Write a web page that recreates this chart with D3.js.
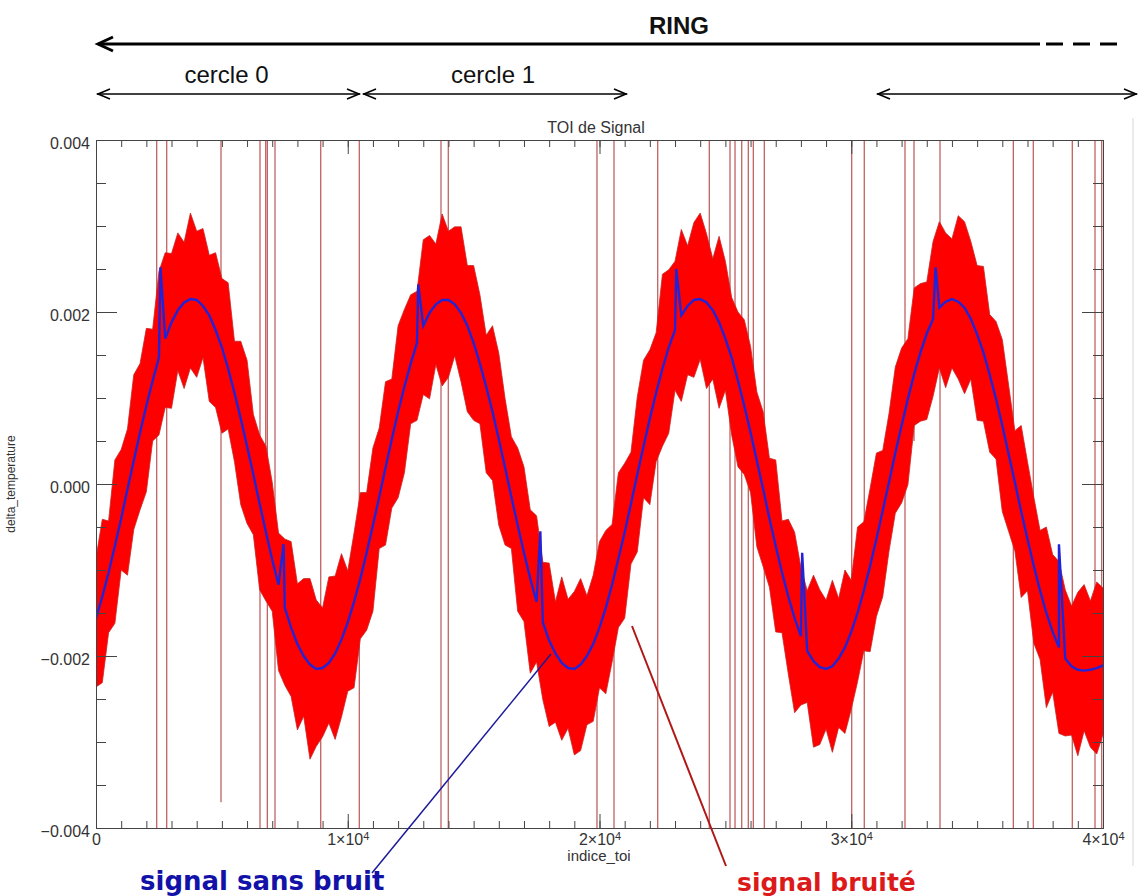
<!DOCTYPE html>
<html lang="fr">
<head>
<meta charset="UTF-8">
<title>TOI de Signal</title>
<script src="https://d3js.org/d3.v7.min.js"></script>
<style>
  body { margin: 0; background: #fff; }
  .axis text { font-family: "Liberation Sans", Arial, sans-serif; font-size: 16px; fill: #333; }
  .axis path, .axis line { stroke: #444; stroke-width: 1; }
  .note { font-family: "Liberation Sans", Arial, sans-serif; fill: #111; }
</style>
</head>
<body>
<div id="chart"></div>
<script>

// clean signal (blue), one sample every 250 indices
const sampleStep = 250;
const cleanSignal = [
  -0.00156, -0.00131, -0.00103, -0.00072, -0.00040, -0.00006, 0.00027, 0.00060, 0.00091, 0.00120,
  0.00147, 0.00169, 0.00188, 0.00202, 0.00211, 0.00215, 0.00214, 0.00207, 0.00196, 0.00179,
  0.00159, 0.00134, 0.00106, 0.00076, 0.00044, 0.00011, -0.00023, -0.00056, -0.00088, -0.00117,
  -0.00144, -0.00167, -0.00186, -0.00200, -0.00210, -0.00215, -0.00214, -0.00208, -0.00197, -0.00181,
  -0.00161, -0.00137, -0.00110, -0.00080, -0.00048, -0.00015, 0.00019, 0.00052, 0.00084, 0.00113,
  0.00140, 0.00164, 0.00184, 0.00199, 0.00209, 0.00214, 0.00214, 0.00209, 0.00199, 0.00184,
  0.00164, 0.00140, 0.00113, 0.00084, 0.00052, 0.00019, -0.00015, -0.00048, -0.00080, -0.00110,
  -0.00137, -0.00161, -0.00182, -0.00197, -0.00208, -0.00214, -0.00215, -0.00210, -0.00200, -0.00186,
  -0.00167, -0.00144, -0.00117, -0.00087, -0.00056, -0.00023, 0.00011, 0.00044, 0.00076, 0.00106,
  0.00134, 0.00159, 0.00179, 0.00196, 0.00207, 0.00214, 0.00215, 0.00211, 0.00202, 0.00188,
  0.00169, 0.00147, 0.00120, 0.00091, 0.00060, 0.00027, -0.00006, -0.00040, -0.00072, -0.00103,
  -0.00131, -0.00156, -0.00177, -0.00194, -0.00206, -0.00213, -0.00215, -0.00212, -0.00203, -0.00190,
  -0.00172, -0.00150, -0.00124, -0.00095, -0.00064, -0.00031, 0.00002, 0.00036, 0.00068, 0.00099,
  0.00128, 0.00153, 0.00175, 0.00192, 0.00205, 0.00212, 0.00215, 0.00212, 0.00205, 0.00192,
  0.00174, 0.00153, 0.00127, 0.00099, 0.00068, 0.00035, 0.00002, -0.00032, -0.00064, -0.00095,
  -0.00124, -0.00150, -0.00172, -0.00190, -0.00203, -0.00212, -0.00216, -0.00217, -0.00216, -0.00214,
  -0.00211
];

// small blips in the clean signal
const cleanBlipIdx = [2560, 7450, 12800, 17650, 23050, 28050, 33350, 38250];
const cleanBlipVal = [0.00252, -0.00070, 0.00232, -0.00055, 0.00250, -0.00080, 0.00252, -0.00070];

// noise spread above / below the clean signal, units of 1e-4, same sampling
const noiseAbove = [
  7, 9, 6, 10, 8, 7, 10, 8, 9, 6, 10, 10, 8, 9, 7, 10, 8, 9, 7, 9,
  8, 10, 6, 9, 10, 7, 8, 10, 9, 6, 8, 10, 7, 9, 10, 8, 7, 10, 9, 10,
  6, 8, 10, 7, 9, 8, 10, 7, 10, 9, 8, 6, 10, 9, 7, 10, 8, 9, 10, 7,
  9, 8, 6, 10, 10, 8, 7, 9, 10, 8, 10, 7, 9, 6, 10, 8, 9, 10, 7, 8,
  10, 9, 7, 10, 8, 6, 9, 10, 8, 7, 11, 9, 8, 10, 7, 9, 10, 8, 6, 10,
  9, 7, 8, 10, 10, 8, 9, 7, 10, 6, 9, 10, 8, 7, 10, 9, 8, 10, 7, 9,
  6, 10, 8, 9, 10, 7, 8, 10, 9, 7, 10, 8, 6, 9, 10, 8, 7, 10, 10, 9,
  8, 10, 7, 9, 10, 8, 6, 10, 9, 8, 7, 10, 9, 10, 8, 7, 9, 10, 8, 10,
  9
];
const noiseBelow = [
  8, 10, 7, 9, 6, 10, 8, 9, 10, 7, 9, 8, 10, 7, 10, 8, 9, 6, 10, 9,
  10, 7, 8, 10, 9, 7, 10, 8, 6, 10, 9, 8, 10, 7, 11, 9, 8, 7, 10, 9,
  8, 10, 7, 9, 10, 6, 9, 8, 10, 10, 7, 9, 8, 10, 7, 10, 9, 6, 8, 10,
  9, 7, 10, 8, 10, 9, 6, 10, 8, 11, 7, 9, 10, 8, 9, 7, 10, 10, 8, 9,
  7, 10, 9, 8, 10, 7, 9, 6, 10, 8, 9, 10, 7, 10, 8, 9, 7, 10, 8, 10,
  6, 9, 10, 8, 7, 10, 9, 8, 10, 7, 9, 11, 8, 6, 10, 9, 7, 10, 8, 10,
  9, 8, 7, 10, 9, 10, 8, 7, 9, 10, 6, 8, 10, 9, 7, 10, 8, 9, 10, 7,
  10, 8, 9, 7, 10, 9, 8, 10, 6, 9, 8, 11, 7, 10, 9, 8, 10, 7, 9, 10,
  8
];

// big glitches in the noisy signal (vertical lines)
const glitchIdx = [2411, 2808, 4965, 6514, 6741, 6806, 7110, 8926, 10459, 13704, 13994, 19900,
  20576, 22312, 24362, 25184, 25383, 25649, 25911, 26110, 26547, 30018, 30518, 32135,
  32493, 33526, 36438, 37232, 38781, 39682, 39948];
const glitchLow = glitchIdx.map(d => -0.004);
glitchLow[2] = -0.0037;
glitchLow[4] = -0.0010;
glitchLow[24] = 0.0005;

const xMajor = [0, 10000, 20000, 30000, 40000];
const yMajor = [-0.004, -0.002, 0, 0.002, 0.004];

const width = 1139, height = 896;

const svg = d3.select('#chart').append('svg')
  .attr('width', width)
  .attr('height', height);

const x = d3.scaleLinear().domain([0, 40000]).range([96, 1103]);
const y = d3.scaleLinear().domain([-0.004, 0.004]).range([828, 140]);

svg.append('clipPath').attr('id', 'plotClip')
  .append('rect')
  .attr('x', 96).attr('y', 140)
  .attr('width', 1103 - 96).attr('height', 828 - 140);

const plot = svg.append('g').attr('clip-path', 'url(#plotClip)');

// glitches first, the band covers them
plot.selectAll('.glitch')
  .data(glitchIdx)
  .join('line')
  .attr('class', 'glitch')
  .attr('x1', d => x(d)).attr('x2', d => x(d))
  .attr('y1', y(0.004))
  .attr('y2', (d, i) => y(glitchLow[i]))
  .attr('stroke', '#b23a3a')
  .attr('stroke-opacity', 0.8)
  .attr('stroke-width', 1.3);

const band = cleanSignal.map((v, i) => ({
  idx: i * sampleStep,
  hi: v + noiseAbove[i] * 1e-4,
  lo: v - noiseBelow[i] * 1e-4
}));

plot.append('path')
  .datum(band)
  .attr('d', d3.area().x(d => x(d.idx)).y0(d => y(d.lo)).y1(d => y(d.hi)))
  .attr('fill', '#ff0000')
  .attr('stroke', '#c82424')
  .attr('stroke-width', 0.8);

const clean = cleanSignal.map((v, i) => ({ idx: i * sampleStep, v: v }))
  .concat(cleanBlipIdx.map((d, i) => ({ idx: d, v: cleanBlipVal[i] })))
  .sort((a, b) => a.idx - b.idx);

plot.append('path')
  .datum(clean)
  .attr('d', d3.line().x(d => x(d.idx)).y(d => y(d.v)))
  .attr('fill', 'none')
  .attr('stroke', '#2323d6')
  .attr('stroke-width', 2.4);

// axes, ticks point inward on all four sides
const xMinor = d3.range(0, 40001, 1000);
const yMinor = d3.range(-8, 9).map(k => k * 0.0005);

svg.append('g').attr('class', 'axis')
  .attr('transform', 'translate(0,828)')
  .call(d3.axisBottom(x).tickValues(xMinor).tickSize(-7).tickSizeOuter(0).tickFormat(''));
const xAx = svg.append('g').attr('class', 'axis')
  .attr('transform', 'translate(0,828)')
  .call(d3.axisBottom(x).tickValues(xMajor).tickSize(-14).tickSizeOuter(0).tickPadding(6));
xAx.selectAll('text').each(function (d) {
  const t = d3.select(this).text(null);
  if (d === 0) { t.text('0'); return; }
  t.append('tspan').text((d / 10000) + '×10');
  t.append('tspan').attr('dy', '-0.45em').attr('font-size', '11px').text('4');
});

svg.append('g').attr('class', 'axis')
  .attr('transform', 'translate(0,140)')
  .call(d3.axisTop(x).tickValues(xMinor).tickSize(-7).tickSizeOuter(0).tickFormat(''));
svg.append('g').attr('class', 'axis')
  .attr('transform', 'translate(0,140)')
  .call(d3.axisTop(x).tickValues(xMajor).tickSize(-14).tickSizeOuter(0).tickFormat(''));

svg.append('g').attr('class', 'axis')
  .attr('transform', 'translate(96,0)')
  .call(d3.axisLeft(y).tickValues(yMinor).tickSize(-10).tickSizeOuter(0).tickFormat(''));
svg.append('g').attr('class', 'axis')
  .attr('transform', 'translate(96,0)')
  .call(d3.axisLeft(y).tickValues(yMajor).tickSize(-21).tickSizeOuter(0).tickPadding(6)
    .tickFormat(d3.format('.3f')))
  .selectAll('text').attr('dy', '0.55em');

svg.append('g').attr('class', 'axis')
  .attr('transform', 'translate(1103,0)')
  .call(d3.axisRight(y).tickValues(yMinor).tickSize(-10).tickSizeOuter(0).tickFormat(''));
svg.append('g').attr('class', 'axis')
  .attr('transform', 'translate(1103,0)')
  .call(d3.axisRight(y).tickValues(yMajor).tickSize(-21).tickSizeOuter(0).tickFormat(''));

// titles
svg.append('text').attr('class', 'note')
  .attr('x', 596).attr('y', 133)
  .attr('text-anchor', 'middle')
  .style('font-size', '16px').style('fill', '#333')
  .text('TOI de Signal');

svg.append('text').attr('class', 'note')
  .attr('x', 599).attr('y', 861)
  .attr('text-anchor', 'middle')
  .style('font-size', '15px').style('fill', '#333')
  .text('indice_toi');

svg.append('text').attr('class', 'note')
  .attr('transform', 'translate(15,484) rotate(-90)')
  .attr('text-anchor', 'middle')
  .style('font-size', '12px').style('fill', '#333')
  .text('delta_temperature');

// RING arrow
const ann = svg.append('g').attr('fill', 'none').attr('stroke', '#000');

ann.append('line')
  .attr('x1', 98).attr('x2', 1040).attr('y1', 44).attr('y2', 44)
  .attr('stroke-width', 3);
ann.append('path')
  .attr('d', 'M113,37 L98,44 L113,51')
  .attr('stroke-width', 3);
ann.append('line')
  .attr('x1', 1046).attr('x2', 1124).attr('y1', 44).attr('y2', 44)
  .attr('stroke-width', 3)
  .attr('stroke-dasharray', '17,10');

svg.append('text').attr('class', 'note')
  .attr('x', 679).attr('y', 34)
  .attr('text-anchor', 'middle')
  .style('font-size', '24px').style('font-weight', 'bold')
  .text('RING');

// cercle arrows
const circles = [
  { x0: 97, x1: 360, label: 'cercle 0' },
  { x0: 363, x1: 627, label: 'cercle 1' },
  { x0: 877, x1: 1137, label: '' }
];

circles.forEach(c => {
  ann.append('line')
    .attr('x1', c.x0).attr('x2', c.x1).attr('y1', 94).attr('y2', 94)
    .attr('stroke-width', 1.6);
  ann.append('path')
    .attr('d', `M${c.x0 + 13},89 L${c.x0 + 1},94 L${c.x0 + 13},99`)
    .attr('stroke-width', 1.6);
  ann.append('path')
    .attr('d', `M${c.x1 - 13},89 L${c.x1 - 1},94 L${c.x1 - 13},99`)
    .attr('stroke-width', 1.6);
  if (c.label) {
    svg.append('text').attr('class', 'note')
      .attr('x', (c.x0 + c.x1) / 2 - 2).attr('y', 83)
      .attr('text-anchor', 'middle')
      .style('font-size', '24px')
      .text(c.label);
  }
});

// labels for the two curves
svg.append('line')
  .attr('x1', 372).attr('y1', 873).attr('x2', 551).attr('y2', 654)
  .attr('stroke', '#1a1a9a').attr('stroke-width', 1.5);
svg.append('line')
  .attr('x1', 632).attr('y1', 626).attr('x2', 726).attr('y2', 866)
  .attr('stroke', '#b01818').attr('stroke-width', 2);

svg.append('text')
  .attr('x', 140).attr('y', 890)
  .style('font-family', '"DejaVu Sans", Verdana, sans-serif')
  .style('font-size', '26px').style('font-weight', 'bold')
  .style('fill', '#1212a8')
  .text('signal sans bruit');

svg.append('text')
  .attr('x', 737).attr('y', 891)
  .style('font-family', '"DejaVu Sans", Verdana, sans-serif')
  .style('font-size', '25px').style('font-weight', 'bold')
  .style('fill', '#dc1a1a')
  .text('signal bruité');

// faint edge on the right of the original capture
svg.append('line')
  .attr('x1', 1133).attr('x2', 1133).attr('y1', 118).attr('y2', 866)
  .attr('stroke', '#ebebeb').attr('stroke-width', 2);

</script>
</body>
</html>
